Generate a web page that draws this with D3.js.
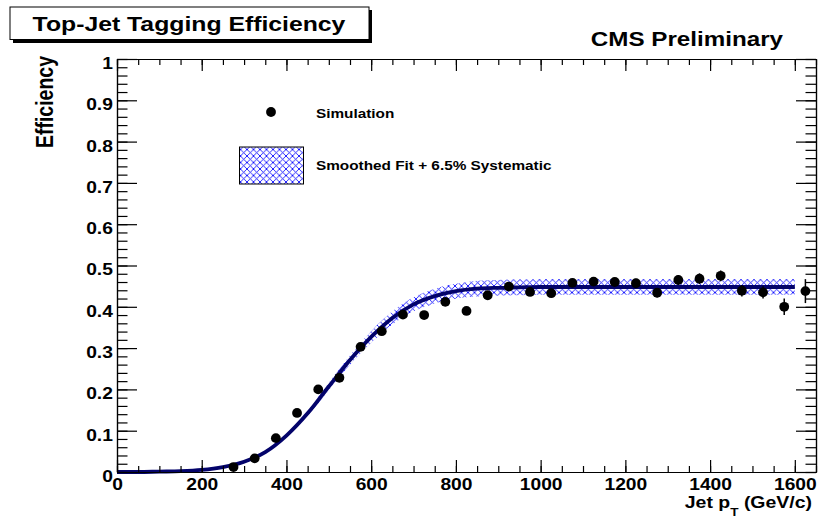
<!DOCTYPE html>
<html>
<head>
<meta charset="utf-8">
<script src="https://cdn.jsdelivr.net/npm/d3@7"></script>
<style>
body { margin: 0; background: #fff; }
text { font-family: "Liberation Sans", Arial, sans-serif; font-weight: bold; fill: #000; }
</style>
</head>
<body>
<div class="canva"><svg width="819" height="521"></svg></div>
<script>
// simulation points, bin centres in GeV/c
const ptBins = [275, 325, 375, 425, 475, 525, 575, 625, 675, 725, 775, 825, 875, 925,
                975, 1025, 1075, 1125, 1175, 1225, 1275, 1325, 1375, 1425, 1475, 1525, 1575, 1625];
const effSim = [0.012, 0.033, 0.082, 0.143, 0.200, 0.228, 0.303, 0.341, 0.381, 0.380, 0.412, 0.390, 0.428, 0.449,
                0.436, 0.433, 0.458, 0.461, 0.460, 0.457, 0.434, 0.465, 0.468, 0.475, 0.439, 0.435, 0.400, 0.438];
const effErr = [0.003, 0.004, 0.006, 0.007, 0.008, 0.008, 0.009, 0.009, 0.009, 0.009, 0.009, 0.009, 0.009, 0.009,
                0.009, 0.009, 0.010, 0.010, 0.010, 0.011, 0.011, 0.012, 0.013, 0.013, 0.014, 0.015, 0.020, 0.029];

// smoothed fit and its band, every 50 GeV
const fitPt = [0, 50, 100, 150, 200, 250, 300, 350, 400, 450, 500, 550, 600, 650, 700, 750, 800,
               850, 900, 950, 1000, 1050, 1100, 1150, 1200, 1250, 1300, 1350, 1400, 1450, 1500, 1550, 1600];
const fitEff = [0.000, 0.000, 0.001, 0.002, 0.005, 0.012, 0.025, 0.048, 0.088, 0.142, 0.207, 0.271, 0.327, 0.373, 0.406, 0.426, 0.438,
                0.444, 0.446, 0.447, 0.448, 0.448, 0.448, 0.448, 0.448, 0.448, 0.448, 0.448, 0.448, 0.448, 0.448, 0.448, 0.448];
const bandLow = [0.000, 0.000, 0.001, 0.002, 0.005, 0.0115, 0.024, 0.046, 0.084, 0.136, 0.198, 0.260, 0.313, 0.357, 0.389, 0.408, 0.420,
                 0.425, 0.427, 0.428, 0.429, 0.429, 0.429, 0.429, 0.429, 0.429, 0.429, 0.429, 0.429, 0.429, 0.429, 0.429, 0.429];
const bandHigh = [0.000, 0.000, 0.001, 0.002, 0.005, 0.0125, 0.026, 0.050, 0.092, 0.148, 0.216, 0.282, 0.341, 0.389, 0.423, 0.444, 0.456,
                  0.463, 0.465, 0.466, 0.467, 0.467, 0.467, 0.467, 0.467, 0.467, 0.467, 0.467, 0.467, 0.467, 0.467, 0.467, 0.467];

const xTicks = [0, 200, 400, 600, 800, 1000, 1200, 1400, 1600];
const yTicks = [0, 0.1, 0.2, 0.3, 0.4, 0.5, 0.6, 0.7, 0.8, 0.9, 1];
const xMinor = d3.range(0, 1651, 50);
const yMinor = d3.range(0, 51).map(i => i / 50);

const svg = d3.select(".canva").select("svg");
const sx = 1.18; // the picture is stretched sideways, text too

const padL = 117, padR = 816, padT = 59, padB = 472;
const x = d3.scaleLinear().domain([0, 1650]).range([padL, padR]);
const y = d3.scaleLinear().domain([0, 1]).range([padB, padT]);

function label(px, py, str, size, anchor) {
  return svg.append("text")
    .attr("transform", `translate(${px},${py}) scale(${sx},1)`)
    .attr("font-size", size)
    .attr("text-anchor", anchor || "start")
    .text(str);
}

// hatch for the band
const defs = svg.append("defs");
defs.append("pattern")
  .attr("id", "hatch")
  .attr("patternUnits", "userSpaceOnUse")
  .attr("width", 6.5).attr("height", 6.5)
  .append("path")
  .attr("d", "M0,0L6.5,6.5M6.5,0L0,6.5")
  .attr("stroke", "#0000ff")
  .attr("stroke-width", 0.85);

// title box with shadow
svg.append("rect").attr("x", 13).attr("y", 10).attr("width", 359).attr("height", 33).attr("fill", "#000");
svg.append("rect").attr("x", 10).attr("y", 7).attr("width", 359).attr("height", 32.5)
  .attr("fill", "#fff").attr("stroke", "#000").attr("stroke-width", 1);
label(189, 30.5, "Top-Jet Tagging Efficiency", 21, "middle");
label(783, 46, "CMS Preliminary", 20.5, "end");

// band and fit
const band = d3.area()
  .x((d, i) => x(fitPt[i]))
  .y0((d, i) => y(bandLow[i]))
  .y1((d, i) => y(bandHigh[i]))
  .curve(d3.curveMonotoneX);
svg.append("path").datum(fitPt).attr("d", band).attr("fill", "url(#hatch)");

const fitLine = d3.line()
  .x((d, i) => x(fitPt[i]))
  .y((d, i) => y(fitEff[i]))
  .curve(d3.curveMonotoneX);
svg.append("path").datum(fitPt).attr("d", fitLine)
  .attr("fill", "none").attr("stroke", "#03036a").attr("stroke-width", 3.8);

// simulation points
svg.selectAll(".err").data(ptBins).enter().append("line")
  .attr("class", "err")
  .attr("x1", d => x(d)).attr("x2", d => x(d))
  .attr("y1", (d, i) => y(effSim[i] - effErr[i]))
  .attr("y2", (d, i) => y(effSim[i] + effErr[i]))
  .attr("stroke", "#000").attr("stroke-width", 1.5);
svg.selectAll(".pt").data(ptBins).enter().append("circle")
  .attr("class", "pt")
  .attr("cx", d => x(d))
  .attr("cy", (d, i) => y(effSim[i]))
  .attr("r", 4.9)
  .attr("fill", "#000");

// frame: ticks on all four sides, pointing in
function frameAxis(axis, tf, vals, size, fmt) {
  const g = svg.append("g").attr("transform", tf)
    .call(axis.tickValues(vals).tickSizeInner(-size).tickSizeOuter(0).tickFormat(fmt || ""));
  g.selectAll("line").attr("stroke", "#000").attr("stroke-width", 1.2);
  g.select(".domain").attr("stroke", "#000").attr("stroke-width", 1.2);
  return g;
}
frameAxis(d3.axisBottom(x), `translate(0,${padB})`, xMinor, 6);
frameAxis(d3.axisTop(x), `translate(0,${padT})`, xMinor, 6);
frameAxis(d3.axisTop(x), `translate(0,${padT})`, xTicks, 12);
frameAxis(d3.axisLeft(y), `translate(${padL},0)`, yMinor, 10.5);
frameAxis(d3.axisRight(y), `translate(${padR},0)`, yMinor, 10.5);
frameAxis(d3.axisRight(y), `translate(${padR},0)`, yTicks, 20);

const xAx = frameAxis(d3.axisBottom(x), `translate(0,${padB})`, xTicks, 12, d3.format("d"));
xAx.selectAll("text")
  .attr("y", 18).attr("dy", 0)
  .attr("transform", `scale(${sx},1)`)
  .attr("font-size", 16.3)
  .attr("font-family", "Liberation Sans, Arial, sans-serif");

const yAx = frameAxis(d3.axisLeft(y), `translate(${padL},0)`, yTicks, 20, d3.format("~g"));
yAx.selectAll("text")
  .attr("x", -3.5).attr("dy", "0.58em")
  .attr("transform", `scale(${sx},1)`)
  .attr("font-size", 16.3)
  .attr("font-family", "Liberation Sans, Arial, sans-serif");

// axis titles
const xt = label(812, 508, "Jet p", 16.5, "end");
xt.append("tspan").attr("dy", 8).attr("font-size", 11.5).text("T");
xt.append("tspan").attr("dy", -8).text(" (GeV/c)");

svg.append("text")
  .attr("transform", `translate(53,56) scale(${sx},1) rotate(-90)`)
  .attr("font-size", 19.5)
  .attr("text-anchor", "end")
  .text("Efficiency");

// legend
svg.append("circle").attr("cx", 271).attr("cy", 112).attr("r", 4.9).attr("fill", "#000");
label(316, 118, "Simulation", 13, "start");
svg.append("rect").attr("x", 239.5).attr("y", 147).attr("width", 64).attr("height", 37)
  .attr("fill", "url(#hatch)").attr("stroke", "#000").attr("stroke-width", 1);
label(316, 170, "Smoothed Fit + 6.5% Systematic", 13, "start");
</script>
</body>
</html>
